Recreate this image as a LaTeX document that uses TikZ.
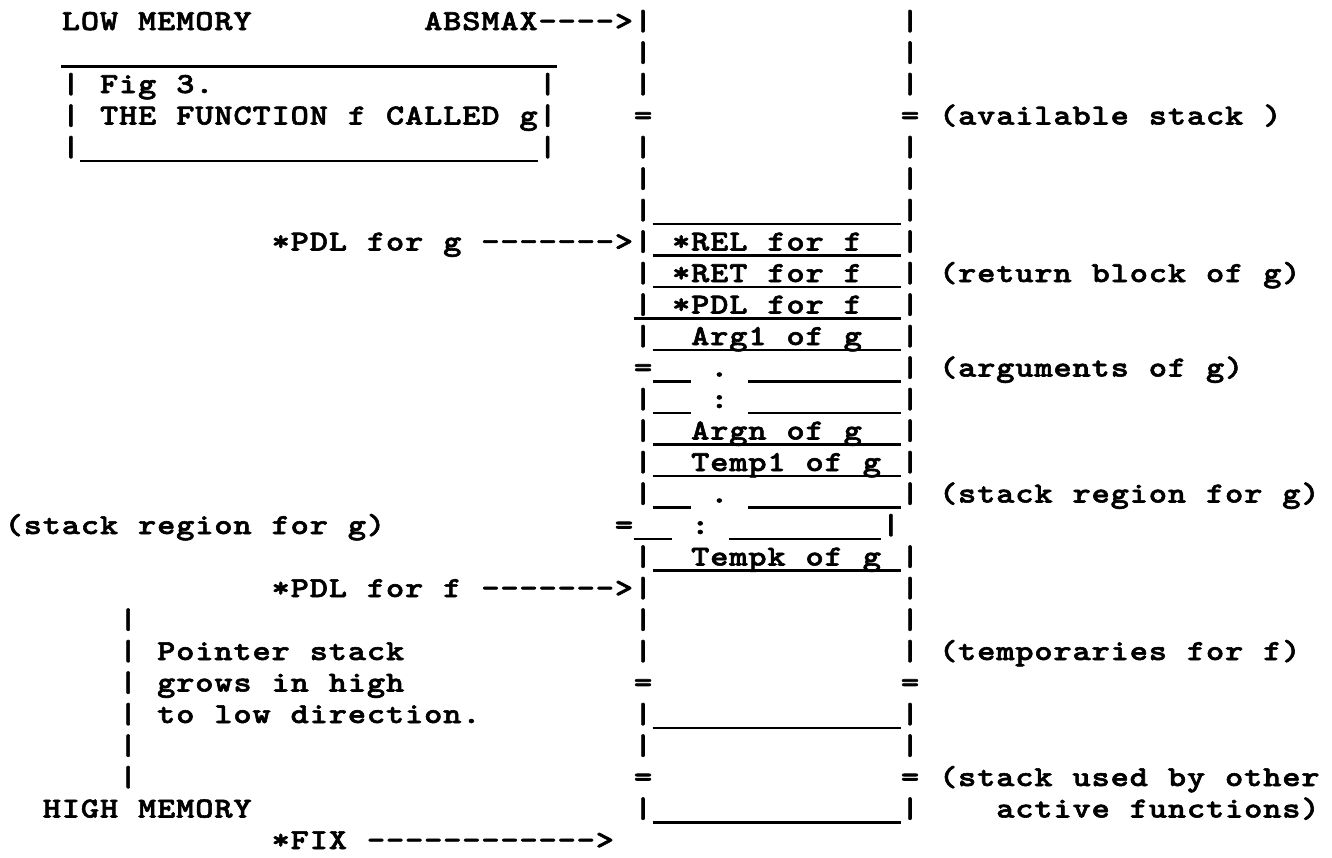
\documentclass[tikz,border=0pt]{standalone}
\usepackage{graphicx}
\newlength\cw
\setlength\cw{19.07pt}
\font\twf="[lmmonolt10-bold.otf]:embolden=2;extend=1.2" at 29pt
\ExplSyntaxOn
\NewDocumentCommand\tw{m}{\str_map_inline:nn{#1}{\makebox[\cw][c]{##1}}}
\ExplSyntaxOff
% \rowtext{name}{row}{column}{text}
\newcommand\rowtext[4]{\node[txt] (#1) at ({4.2+19.07*#3},{30+31.5*(#2-1)}) {\tw{#4}};}
% \rowline{row}{first column}{last column}
\newcommand\rowline[3]{\draw[us] ({4.2+19.07*#2},{35+31.5*(#1-1)}) -- ({4.2+19.07*(#3+1)},{35+31.5*(#1-1)});}
\begin{document}
\begin{tikzpicture}[x=1pt,y=-1pt,
  txt/.style={inner sep=0pt, outer sep=0pt, anchor=base west, font=\twf},
  us/.style={line width=2.6pt, line cap=butt}]
\fill[white] (0,0) rectangle (1332,857);
\useasboundingbox (0,0) rectangle (1332,857);
% row 1
\rowtext{lowmem}{1}{3}{LOW MEMORY}
\rowtext{absmax}{1}{22}{ABSMAX---->|}
\rowtext{ra}{1}{47}{|}
% row 2
\rowline{2}{3}{28}
\rowtext{lb}{2}{33}{|}
\rowtext{rb}{2}{47}{|}
% row 3
\rowtext{bxc}{3}{3}{|}
\rowtext{fig}{3}{5}{Fig 3.}
\rowtext{bxcr}{3}{28}{|}
\rowtext{lc}{3}{33}{|}
\rowtext{rc}{3}{47}{|}
% row 4
\rowtext{bxd}{4}{3}{|}
\rowtext{title}{4}{5}{THE FUNCTION f CALLED g|}
\rowtext{ld}{4}{33}{=}
\rowtext{rd}{4}{47}{=}
\rowtext{avail}{4}{49}{(available stack )}
% row 5
\rowtext{bxe}{5}{3}{|}
\rowline{5}{4}{27}
\rowtext{bxer}{5}{28}{|}
\rowtext{le}{5}{33}{|}
\rowtext{re}{5}{47}{|}
% row 6
\rowtext{lf}{6}{33}{|}
\rowtext{rf}{6}{47}{|}
% row 7
\rowtext{lg}{7}{33}{|}
\rowline{7}{34}{46}
\rowtext{rg}{7}{47}{|}
% row 8
\rowtext{pdlg}{8}{14}{*PDL for g ------->|}
\rowtext{rel}{8}{35}{*REL for f}
\rowline{8}{34}{46}
\rowtext{rh}{8}{47}{|}
% row 9
\rowtext{li}{9}{33}{|}
\rowtext{ret}{9}{35}{*RET for f}
\rowline{9}{34}{46}
\rowtext{ri}{9}{47}{|}
\rowtext{retblk}{9}{49}{(return block of g)}
% row 10
\rowtext{lj}{10}{33}{|}
\rowtext{pdlfa}{10}{35}{*PDL for f}
\rowline{10}{33}{46}
\rowtext{rj}{10}{47}{|}
% row 11
\rowtext{lk}{11}{33}{|}
\rowtext{argone}{11}{36}{Arg1 of g}
\rowline{11}{34}{46}
\rowtext{rk}{11}{47}{|}
% row 12
\rowtext{ll}{12}{33}{=}
\rowline{12}{34}{35}
\rowtext{dotl}{12}{37}{.}
\rowline{12}{39}{46}
\rowtext{rl}{12}{47}{|}
\rowtext{args}{12}{49}{(arguments of g)}
% row 13
\rowtext{lm}{13}{33}{|}
\rowline{13}{34}{35}
\rowtext{colm}{13}{37}{:}
\rowline{13}{39}{46}
\rowtext{rm}{13}{47}{|}
% row 14
\rowtext{ln}{14}{33}{|}
\rowtext{argn}{14}{36}{Argn of g}
\rowline{14}{34}{46}
\rowtext{rn}{14}{47}{|}
% row 15
\rowtext{lo}{15}{33}{|}
\rowtext{tempone}{15}{36}{Temp1 of g}
\rowline{15}{34}{46}
\rowtext{ro}{15}{47}{|}
% row 16
\rowtext{lp}{16}{33}{|}
\rowline{16}{34}{35}
\rowtext{dotp}{16}{37}{.}
\rowline{16}{39}{46}
\rowtext{rp}{16}{47}{|}
\rowtext{regright}{16}{49}{(stack region for g)}
% row 17
\rowtext{regleft}{17}{0}{(stack region for g)}
\rowtext{lq}{17}{32}{=}
\rowline{17}{33}{34}
\rowtext{colq}{17}{36}{:}
\rowline{17}{38}{45}
\rowtext{rq}{17}{46}{|}
% row 18
\rowtext{lr}{18}{33}{|}
\rowtext{tempk}{18}{36}{Tempk of g}
\rowline{18}{34}{46}
\rowtext{rr}{18}{47}{|}
% row 19
\rowtext{pdlfb}{19}{14}{*PDL for f ------->|}
\rowtext{rs}{19}{47}{|}
% row 20
\rowtext{pt}{20}{6}{|}
\rowtext{lt}{20}{33}{|}
\rowtext{rt}{20}{47}{|}
% row 21
\rowtext{pu}{21}{6}{| Pointer stack}
\rowtext{lu}{21}{33}{|}
\rowtext{ru}{21}{47}{|}
\rowtext{temps}{21}{49}{(temporaries for f)}
% row 22
\rowtext{pv}{22}{6}{| grows in high}
\rowtext{lv}{22}{33}{=}
\rowtext{rv}{22}{47}{=}
% row 23
\rowtext{pw}{23}{6}{| to low direction.}
\rowtext{lw}{23}{33}{|}
\rowline{23}{34}{46}
\rowtext{rw}{23}{47}{|}
% row 24
\rowtext{px}{24}{6}{|}
\rowtext{lx}{24}{33}{|}
\rowtext{rx}{24}{47}{|}
% row 25
\rowtext{py}{25}{6}{|}
\rowtext{ly}{25}{33}{=}
\rowtext{ry}{25}{47}{=}
\rowtext{used}{25}{49}{(stack used by other}
% row 26
\rowtext{highmem}{26}{2}{HIGH MEMORY}
\rowtext{lz}{26}{33}{|}
\rowline{26}{34}{46}
\rowtext{rz}{26}{47}{|}
\rowtext{active}{26}{52}{active functions)}
% row 27
\rowtext{fix}{27}{14}{*FIX ------------>}
\end{tikzpicture}
\end{document}
